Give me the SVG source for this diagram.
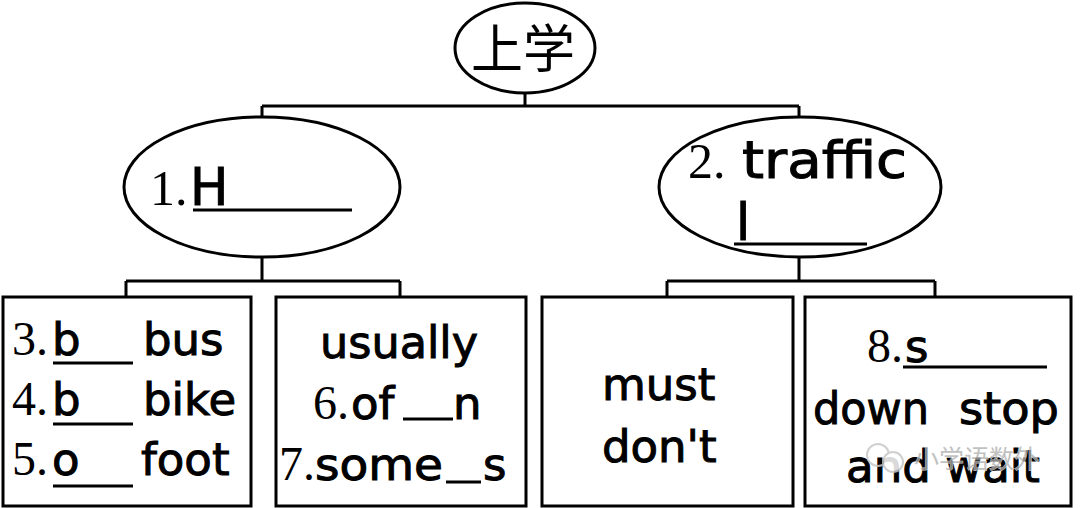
<svg xmlns="http://www.w3.org/2000/svg" width="1080" height="508" viewBox="0 0 1080 508">
<style>
.shape{fill:#fff;stroke:#000;stroke-width:3}
.conn{fill:none;stroke:#000;stroke-width:3}
.ul{stroke:#000;stroke-width:3}
.cs{font-family:"DejaVu Sans","Liberation Sans",sans-serif;font-size:45px;fill:#000;stroke:#000;stroke-width:1}
.csb{font-family:"DejaVu Sans","Liberation Sans",sans-serif;font-size:51px;fill:#000;stroke:#000;stroke-width:1}
.sr{font-family:"Liberation Serif","DejaVu Serif",serif;font-size:48px;fill:#000}
.srb{font-family:"Liberation Serif","DejaVu Serif",serif;font-size:50px;fill:#000}
.cjk{font-family:"Noto Sans CJK SC",sans-serif;font-size:52px;fill:#000}
.wm{font-family:"Noto Sans CJK SC",sans-serif;font-size:25px;fill:#b0b0b0;stroke:#fff;stroke-width:1;paint-order:stroke;opacity:0.9}
</style>
<rect width="1080" height="508" fill="#fff"/>
<g id="connectors">
<path class="conn" d="M525,93 V106 M262,106 H799 M262,106 V118 M799,106 V118"/>
<path class="conn" d="M262,257 V281 M126,281 H400 M126,281 V297 M400,281 V297"/>
<path class="conn" d="M799,257 V281 M667,281 H935 M667,281 V297 M935,281 V297"/>
</g>
<g id="node-top">
<ellipse class="shape" cx="525" cy="48" rx="70" ry="45"/>
<text class="cjk" x="523" y="68" text-anchor="middle">上学</text>
</g>
<g id="node-left">
<ellipse class="shape" cx="262" cy="187" rx="138" ry="70"/>
<text class="srb" x="150" y="205">1.</text>
<text class="csb" x="190" y="205">H</text>
<line class="ul" x1="193" y1="210" x2="352" y2="210"/>
</g>
<g id="node-right">
<ellipse class="shape" cx="800" cy="187" rx="141" ry="70"/>
<text class="srb" x="688" y="178">2.</text>
<text class="csb" x="742" y="178" textLength="165" lengthAdjust="spacingAndGlyphs">traffic</text>
<text class="csb" x="736" y="240">l</text>
<line class="ul" x1="734" y1="244" x2="867" y2="244"/>
</g>
<g id="box-1">
<rect class="shape" x="3" y="297" width="248" height="209"/>
<text class="sr" x="12" y="355">3.</text>
<text class="cs" x="52" y="355">b</text>
<line class="ul" x1="53" y1="363" x2="133" y2="363"/>
<text class="cs" x="143" y="355">bus</text>
<text class="sr" x="12" y="415">4.</text>
<text class="cs" x="52" y="415">b</text>
<line class="ul" x1="53" y1="424" x2="133" y2="424"/>
<text class="cs" x="143" y="415">bike</text>
<text class="sr" x="12" y="475">5.</text>
<text class="cs" x="52" y="475">o</text>
<line class="ul" x1="53" y1="486" x2="133" y2="486"/>
<text class="cs" x="141" y="475">foot</text>
</g>
<g id="box-2">
<rect class="shape" x="276" y="297" width="250" height="209"/>
<text class="cs" x="320" y="358" textLength="158" lengthAdjust="spacingAndGlyphs">usually</text>
<text class="sr" x="313" y="419">6.</text>
<text class="cs" x="351" y="419">of</text>
<line class="ul" x1="403" y1="419" x2="453" y2="419"/>
<text class="cs" x="453" y="419">n</text>
<text class="sr" x="279" y="480">7.</text>
<text class="cs" x="315" y="480" textLength="128" lengthAdjust="spacingAndGlyphs">some</text>
<line class="ul" x1="446" y1="482" x2="481" y2="482"/>
<text class="cs" x="483" y="480">s</text>
</g>
<g id="box-3">
<rect class="shape" x="542" y="297" width="251" height="209"/>
<text class="cs" x="602" y="400">must</text>
<text class="cs" x="602" y="462">don't</text>
</g>
<g id="box-4">
<rect class="shape" x="805" y="297" width="266" height="209"/>
<text class="sr" x="867" y="362">8.</text>
<text class="cs" x="905" y="362">s</text>
<line class="ul" x1="903" y1="367" x2="1047" y2="367"/>
<text class="cs" x="813" y="424" textLength="116" lengthAdjust="spacingAndGlyphs">down</text>
<text class="cs" x="959" y="424" textLength="100" lengthAdjust="spacingAndGlyphs">stop</text>
<text class="cs" x="846" y="482" textLength="194">and wait</text>
</g>
<g id="watermark" opacity="0.85">
<circle cx="878" cy="455" r="11" fill="none" stroke="#c8c8c8" stroke-width="2"/>
<circle cx="893" cy="462" r="10" fill="#fff" stroke="#c8c8c8" stroke-width="2"/>
<text class="wm" x="914" y="468">小学语数外</text>
</g>
</svg>
